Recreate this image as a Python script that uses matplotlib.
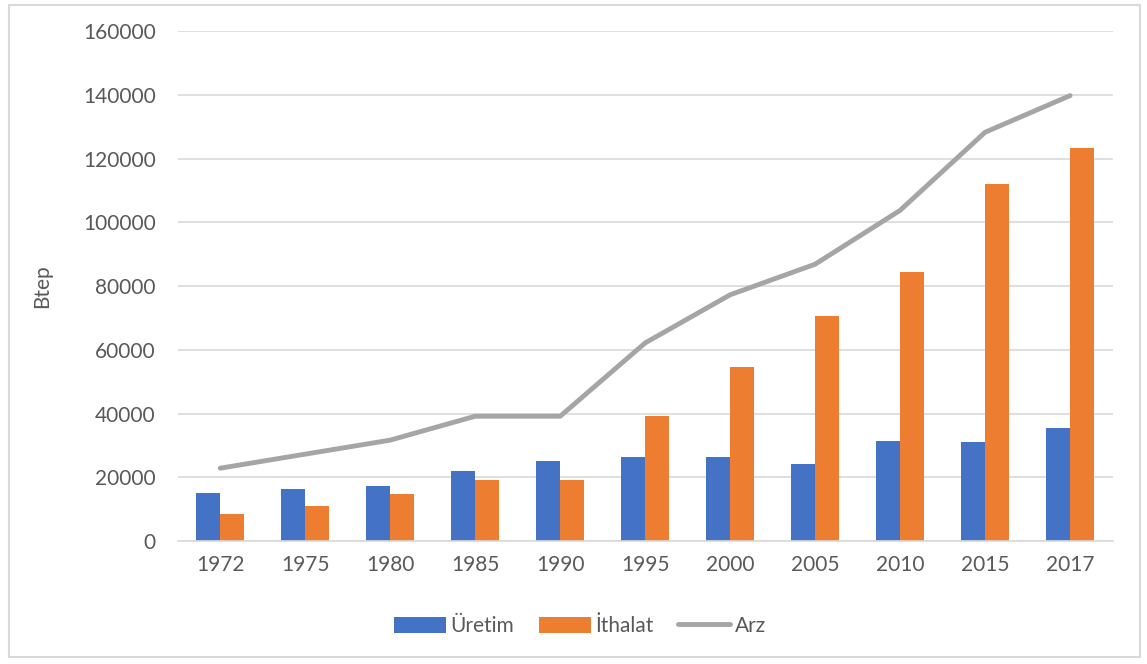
import numpy as np
import matplotlib.pyplot as plt
from matplotlib.patches import Rectangle

plt.rcParams['font.family'] = ['Lato', 'DejaVu Sans']

years = ['1972', '1975', '1980', '1985', '1990', '1995', '2000', '2005', '2010', '2015', '2017']
uretim = [15000, 16300, 17300, 22000, 25100, 26300, 26500, 24200, 31400, 31000, 35400]
ithalat = [8500, 11000, 14700, 19100, 19100, 39200, 54600, 70600, 84400, 112000, 123500]
arz = [22900, 27300, 31700, 39200, 39200, 62200, 77300, 86900, 103800, 128300, 139800]

x = np.arange(len(years))
w = 0.28

fig = plt.figure(figsize=(11.47, 6.64), dpi=100)
ax = fig.add_axes([0.155, 0.185, 0.815, 0.768])

b1 = ax.bar(x - w / 2, uretim, w, color='#4472C4', label='Üretim', zorder=2)
b2 = ax.bar(x + w / 2, ithalat, w, color='#ED7D31', label='İthalat', zorder=2)
l1, = ax.plot(x, arz, color='#A5A5A5', lw=3.5, label='Arz', zorder=3, solid_capstyle='round')

ax.set_xlim(-0.5, len(years) - 0.5)
ax.set_ylim(0, 160000)
ax.set_yticks(np.arange(0, 160001, 20000))
ax.set_xticks(x)
ax.set_xticklabels(years)
ax.grid(axis='y', color='#D9D9D9', lw=1.2, zorder=0)
for s in ['top', 'right', 'left']:
    ax.spines[s].set_visible(False)
ax.spines['bottom'].set_color('#D9D9D9')
ax.spines['bottom'].set_linewidth(1.2)
ax.tick_params(length=0, labelsize=15, colors='#595959', pad=10)
ax.tick_params(axis='y', pad=16)
ax.set_ylabel('Btep', fontsize=15, color='#595959', labelpad=22)

ax.legend([b1, b2, l1], ['Üretim', 'İthalat', 'Arz'], loc='upper center',
          bbox_to_anchor=(0.43, -0.11), ncol=3, frameon=False,
          fontsize=15, labelcolor='#595959', handlelength=2.5, handleheight=0.8,
          columnspacing=1.2, handletextpad=0.2)

fig.patches.append(Rectangle((0.008, 0.01), 0.986, 0.983, transform=fig.transFigure,
                             fill=False, edgecolor='#D9D9D9', lw=1.5))

fig.savefig('out.png', dpi=100)
